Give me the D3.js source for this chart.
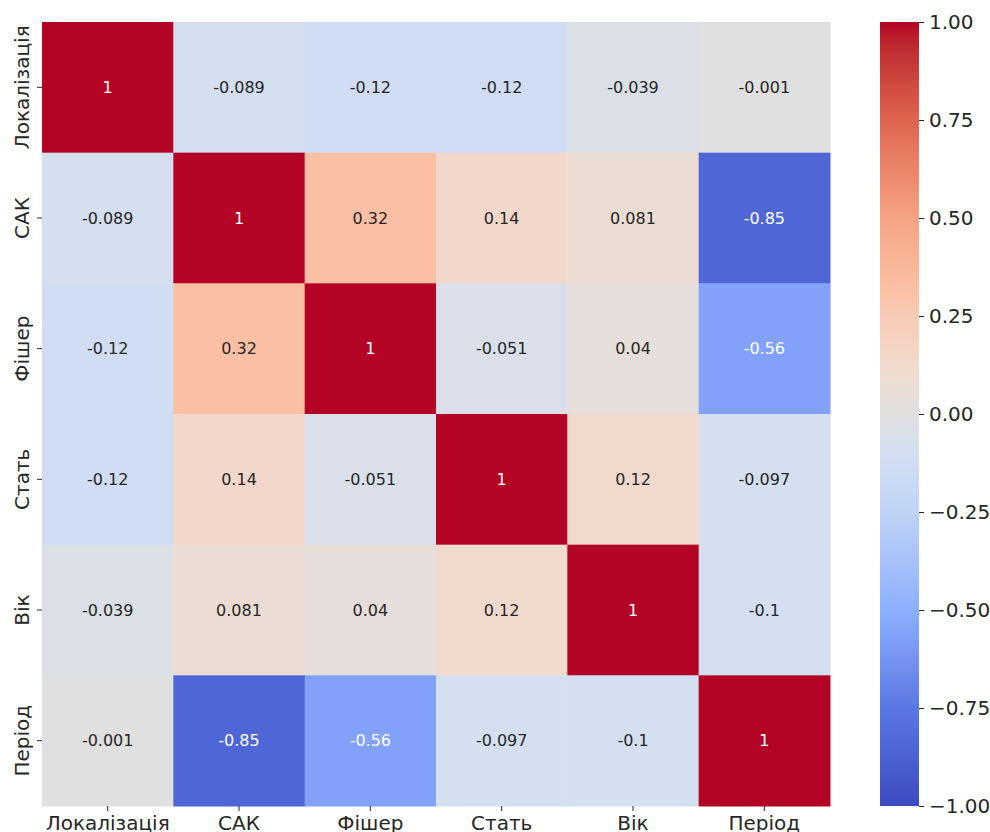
<!DOCTYPE html>
<html><head><meta charset="utf-8">
<script src="https://cdn.jsdelivr.net/npm/d3@7"></script>
<style>body{margin:0;background:#fff;} text{font-family:"DejaVu Sans",sans-serif;}</style>
</head><body>
<svg id="c" width="990" height="832"></svg>
<script>
const labels = ["Локалізація","САК","Фішер","Стать","Вік","Період"];
const row0 = [1, -0.089, -0.12, -0.12, -0.039, -0.001];
const row1 = [-0.089, 1, 0.32, 0.14, 0.081, -0.85];
const row2 = [-0.12, 0.32, 1, -0.051, 0.04, -0.56];
const row3 = [-0.12, 0.14, -0.051, 1, 0.12, -0.097];
const row4 = [-0.039, 0.081, 0.04, 0.12, 1, -0.1];
const row5 = [-0.001, -0.85, -0.56, -0.097, -0.1, 1];
const matrix = [row0,row1,row2,row3,row4,row5];
const cbTicks = [-1,-0.75,-0.5,-0.25,0,0.25,0.5,0.75,1];
const stopPos = [0, 0.125, 0.25, 0.375, 0.45, 0.5, 0.55, 0.625, 0.66, 0.75, 0.875, 1];
const stopCol = ["#3b4cc0","#5a78e4","#8cb0fe","#bfd3f6","#d4dff1","#e0e0e0","#efdcd1","#f7ccb6","#fbc0a3","#f5a385","#de6450","#b40426"];

const cmap = d3.scaleLinear().domain(stopPos).range(stopCol).interpolate(d3.interpolateLab).clamp(true);
const color = v => cmap((v+1)/2);

const svg = d3.select("#c");
const L=42, R=830, T=22, B=806;
const x = d3.scaleBand().domain(labels).range([L,R]);
const y = d3.scaleBand().domain(labels).range([T,B]);

const cells = [];
matrix.forEach((r,i)=>r.forEach((v,j)=>cells.push({r:labels[i],c:labels[j],v})));

svg.append("g").selectAll("rect").data(cells).join("rect")
  .attr("x",d=>x(d.c)).attr("y",d=>y(d.r))
  .attr("width",x.bandwidth()+0.5).attr("height",y.bandwidth()+0.5)
  .attr("fill",d=>color(d.v));

svg.append("g").selectAll("text").data(cells).join("text")
  .attr("x",d=>x(d.c)+x.bandwidth()/2).attr("y",d=>y(d.r)+y.bandwidth()/2)
  .attr("text-anchor","middle").attr("dominant-baseline","central")
  .attr("font-size",16)
  .attr("fill",d=>Math.abs(d.v)>0.5?"#ffffff":"#262626")
  .text(d=>String(d.v));

// axes
const xa = svg.append("g").attr("transform",`translate(0,${B})`)
  .call(d3.axisBottom(x).tickSize(5).tickPadding(5));
xa.select(".domain").remove();
xa.selectAll("text").attr("font-size",20).attr("fill","#262626").style("font-family","DejaVu Sans");
xa.selectAll("line").attr("stroke","#262626");

const ya = svg.append("g").attr("transform",`translate(${L},0)`)
  .call(d3.axisLeft(y).tickSize(5).tickPadding(6));
ya.select(".domain").remove();
ya.selectAll("line").attr("stroke","#262626");
ya.selectAll(".tick text").attr("font-size",20).attr("fill","#262626").style("font-family","DejaVu Sans")
  .attr("text-anchor","middle").attr("dy",null).attr("dominant-baseline","central")
  .attr("x",0).attr("y",0)
  .attr("transform","translate(-20,0) rotate(-90)");

// colorbar
const cbX=880, cbW=39;
const cs = d3.scaleLinear().domain([-1,1]).range([B,T]);
const defs = svg.append("defs");
const grad = defs.append("linearGradient").attr("id","cw").attr("x1",0).attr("x2",0).attr("y1",1).attr("y2",0);
d3.range(0,1.0001,0.025).forEach(t=>grad.append("stop").attr("offset",t).attr("stop-color",cmap(t)));
svg.append("rect").attr("x",cbX).attr("y",T).attr("width",cbW).attr("height",B-T).attr("fill","url(#cw)");
const ca = svg.append("g").attr("transform",`translate(${cbX+cbW},0)`)
  .call(d3.axisRight(cs).tickValues(cbTicks).tickFormat(d3.format(".2f")).tickSize(5).tickPadding(5));
ca.select(".domain").remove();
ca.selectAll("line").attr("stroke","#262626");
ca.selectAll("text").attr("font-size",20).attr("fill","#262626").style("font-family","DejaVu Sans");
</script>
</body></html>
